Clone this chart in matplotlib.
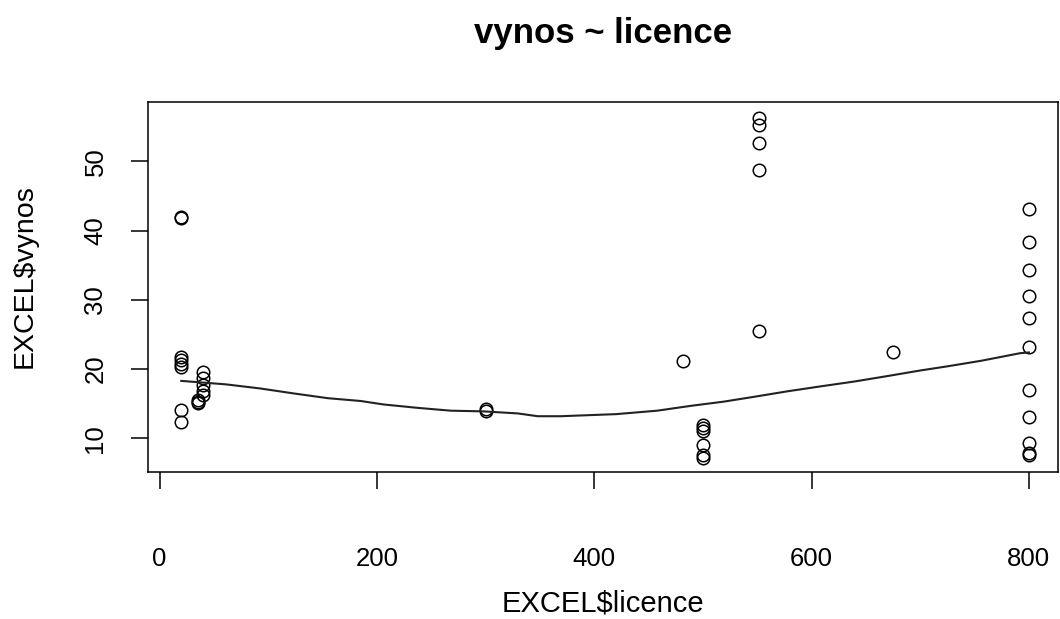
import matplotlib
matplotlib.use("Agg")
import matplotlib.pyplot as plt
import numpy as np

plt.rcParams['font.family'] = ['Liberation Sans', 'DejaVu Sans']

# Observations: licence value and the matching vynos values
licence_20 = [20] * 8
vynos_20 = [41.8, 42.0, 21.8, 21.3, 20.7, 20.3, 14.1, 12.4]
licence_35 = [35] * 3
vynos_35 = [15.6, 15.1, 15.3]
licence_40 = [40] * 5
vynos_40 = [19.6, 18.7, 17.7, 16.8, 16.2]
licence_300 = [300] * 2
vynos_300 = [14.3, 14.0]
licence_482 = [482]
vynos_482 = [21.2]
licence_500 = [500] * 6
vynos_500 = [11.9, 11.5, 11.1, 9.0, 7.6, 7.2]
licence_552 = [552] * 5
vynos_552 = [56.2, 55.2, 52.6, 48.8, 25.5]
licence_675 = [675]
vynos_675 = [22.4]
licence_800 = [800] * 11
vynos_800 = [43.1, 38.3, 34.3, 30.6, 27.4, 23.2, 17.0, 13.1, 9.3, 7.9, 7.6]

licence = (licence_20 + licence_35 + licence_40 + licence_300 + licence_482
           + licence_500 + licence_552 + licence_675 + licence_800)
vynos = (vynos_20 + vynos_35 + vynos_40 + vynos_300 + vynos_482
         + vynos_500 + vynos_552 + vynos_675 + vynos_800)

# Smoothed trend curve
smooth_x = [20, 61, 93, 123, 155, 185, 206, 238, 268, 298, 330, 348, 369,
            420, 458, 489, 519, 547, 578, 608, 639, 670, 700, 725, 756, 792, 800]
smooth_y = [18.3, 17.8, 17.2, 16.5, 15.8, 15.4, 14.9, 14.4, 14.0, 13.9, 13.6,
            13.2, 13.2, 13.5, 14.0, 14.7, 15.3, 16.0, 16.8, 17.5, 18.2, 19.0,
            19.8, 20.4, 21.2, 22.3, 22.4]

x_ticks = [0, 200, 400, 600, 800]
y_ticks = [10, 20, 30, 40, 50]

W, H = 1060, 619
fig = plt.figure(figsize=(W / 100, H / 100), dpi=100)
ax = fig.add_axes([148 / W, 1 - 472 / H, (1058 - 148) / W, (472 - 102) / H])

ax.plot(licence, vynos, linestyle='none', marker='o', markersize=9,
        markerfacecolor='none', markeredgecolor='black', markeredgewidth=1.1)
ax.plot(smooth_x, smooth_y, color='#222222', linewidth=1.5)

ax.set_xlim(-10.6, 826.8)
ax.set_ylim(5.15, 58.55)
ax.set_xticks(x_ticks)
ax.set_yticks(y_ticks)
ax.set_xticklabels([str(t) for t in x_ticks])
ax.set_yticklabels([str(t) for t in y_ticks], rotation=90, va='center')

for s in ax.spines.values():
    s.set_linewidth(1.1)
    s.set_color('black')

ax.tick_params(axis='both', length=12.2, width=1.1, labelsize=18.5, colors='black')
ax.tick_params(axis='x', pad=42)
ax.tick_params(axis='y', pad=17)

fig.text(0.5 * (148 + 1058) / W, 1 - 33 / H, 'vynos ~ licence',
         ha='center', va='center', fontsize=25, fontweight='bold')
fig.text(0.5 * (148 + 1058) / W, 1 - 604 / H, 'EXCEL$licence',
         ha='center', va='center', fontsize=21)
fig.text(25 / W, 1 - 276 / H, 'EXCEL$vynos', rotation=90,
         ha='center', va='center', fontsize=20.5)

fig.savefig('out.png', dpi=100, facecolor='white')
